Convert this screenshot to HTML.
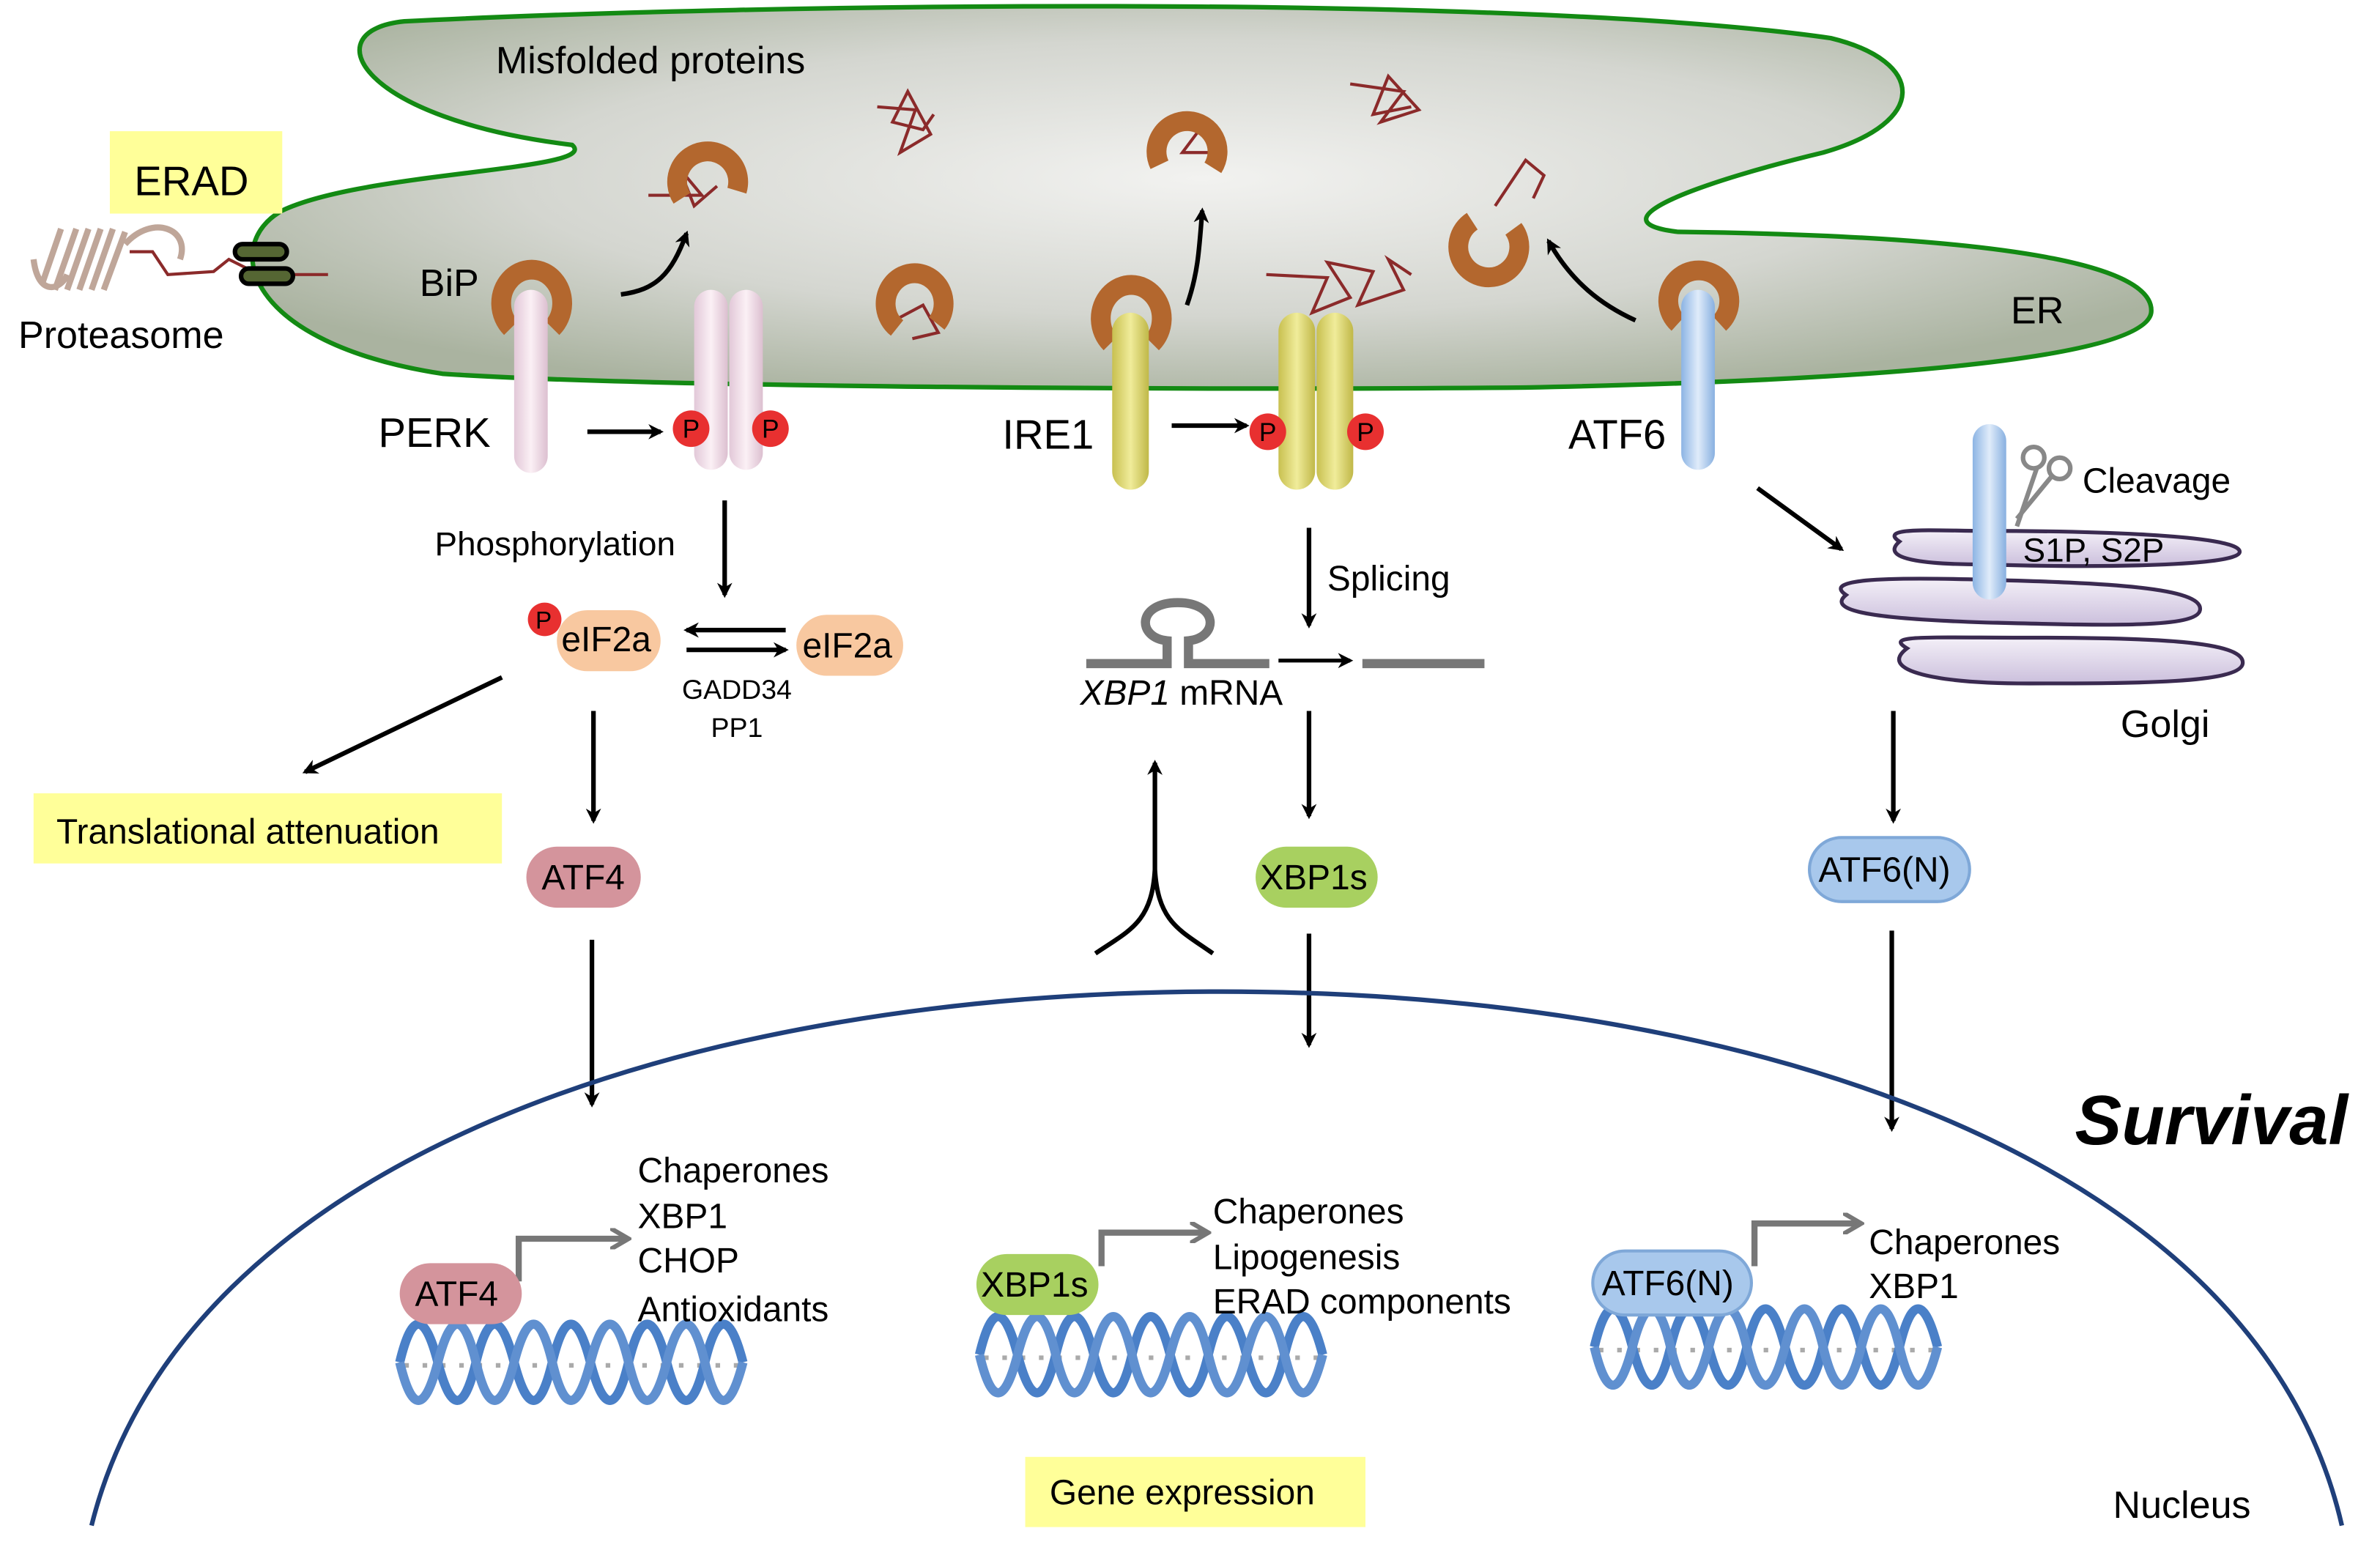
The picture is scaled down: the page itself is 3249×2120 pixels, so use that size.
<!DOCTYPE html>
<html><head><meta charset="utf-8"><style>
html,body{margin:0;padding:0;background:#fff}
svg{display:block}
text{font-family:"Liberation Sans",Arial,sans-serif;fill:#000}
</style></head><body>
<svg width="3249" height="2120" viewBox="0 0 1560 1018" preserveAspectRatio="none" xmlns="http://www.w3.org/2000/svg">
<defs>
<radialGradient id="er" cx="0.5" cy="0.45" r="0.6">
<stop offset="0" stop-color="#f2f2f0"/><stop offset="0.6" stop-color="#d4d6d0"/><stop offset="1" stop-color="#aab3a0"/></radialGradient>
<linearGradient id="pk" x1="0" x2="1"><stop offset="0" stop-color="#e2c8d8"/><stop offset="0.5" stop-color="#fbf0f5"/><stop offset="1" stop-color="#dcbfd0"/></linearGradient>
<linearGradient id="ye" x1="0" x2="1"><stop offset="0" stop-color="#c8c050"/><stop offset="0.5" stop-color="#f0ec9a"/><stop offset="1" stop-color="#c0b848"/></linearGradient>
<linearGradient id="bl" x1="0" x2="1"><stop offset="0" stop-color="#8cb4e4"/><stop offset="0.5" stop-color="#e0ecfa"/><stop offset="1" stop-color="#88b0e0"/></linearGradient>
<linearGradient id="gol" x1="0" y1="0" x2="0" y2="1"><stop offset="0" stop-color="#f4f0f8"/><stop offset="1" stop-color="#cbbfdc"/></linearGradient>
<marker id="ah" markerWidth="10" markerHeight="10" refX="8" refY="5" orient="auto" markerUnits="userSpaceOnUse"><path d="M0,0 L10,5 L0,10 L3,5 Z" fill="#000"/></marker>
<marker id="ag" markerWidth="14" markerHeight="14" refX="10" refY="7" orient="auto" markerUnits="userSpaceOnUse"><path d="M0,0 L12,7 L0,14" fill="none" stroke="#777" stroke-width="3"/></marker>
</defs>

<path d="M265 14 C205 20 235 78 375 95 C395 112 240 112 185 138 C145 160 160 225 290 245 C420 254 800 256 1000 254 C1200 250 1405 238 1410 205 C1413 178 1340 155 1100 152 C1040 145 1120 118 1195 100 C1265 80 1262 40 1200 25 C1000 -4 500 2 265 14 Z" fill="url(#er)" stroke="#138a13" stroke-width="3"/>
<text x="325" y="48" font-size="25">Misfolded proteins</text>
<text x="1318" y="212" font-size="25">ER</text>

<rect x="72" y="86" width="113" height="54" fill="#ffff99"/>
<text x="88" y="128" font-size="27">ERAD</text>
<g stroke="#b09080" stroke-width="4" fill="none" opacity="0.8">
<path d="M28 185 L40 150 M36 190 L50 150 M44 190 L58 150 M52 190 L66 150 M60 190 L74 150 M68 190 L82 152"/>
<path d="M22 170 C25 195 40 190 44 180 M82 160 C100 140 125 150 118 170"/></g>
<path d="M85 165 L100 165 L110 180 L140 178 L150 170 L170 180 L215 180" fill="none" stroke="#8b2a2a" stroke-width="2"/>
<rect x="154" y="160" width="34" height="10" rx="5" fill="#556633" stroke="#000" stroke-width="3"/>
<rect x="158" y="176" width="34" height="10" rx="5" fill="#556633" stroke="#000" stroke-width="3"/>
<text x="12" y="228" font-size="25">Proteasome</text>

<g fill="none" stroke="#8b2a2a" stroke-width="2">
<path d="M575 70 L600 72 L590 100 L610 88 L595 60 L585 80 L605 85 L612 75"/>
<path d="M885 55 L920 60 L905 80 L930 72 L910 50 L900 75 L925 70"/>
<path d="M830 180 L870 182 L860 205 L885 195 L870 172 L900 178 L890 200 L920 190 L910 170 L925 180"/>
<path d="M425 128 L460 128 L445 110 L455 135 L470 122"/>
<path d="M590 208 L605 200 L615 218 L598 222"/>
<path d="M760 90 L790 80 L775 100 L795 100"/>
<path d="M980 135 L1000 105 L1012 115 L1005 130"/>
</g>

<g fill="none" stroke="#b3672e" stroke-width="13">
<path d="M335 215 A20 22 0 1 1 362 215"/>
<path d="M447 130 A20 20 0 1 1 483 125"/>
<path d="M588 215 A19 20 0 1 1 614 212"/>
<path d="M760 108 A20 20 0 1 1 795 110"/>
<path d="M728 225 A20 22 0 1 1 755 225"/>
<path d="M992 150 A20 20 0 1 1 965 145"/>
<path d="M1100 212 A20 20 0 1 1 1127 212"/>
</g>
<text x="275" y="194" font-size="25">BiP</text>

<path d="M407 193 C430 190 440 180 450 153" fill="none" stroke="#000" stroke-width="3" marker-end="url(#ah)"/>
<path d="M778 200 C785 180 786 165 788 138" fill="none" stroke="#000" stroke-width="3" marker-end="url(#ah)"/>
<path d="M1072 210 C1050 200 1030 185 1015 158" fill="none" stroke="#000" stroke-width="3" marker-end="url(#ah)"/>

<rect x="337" y="190" width="22" height="120" rx="11" fill="url(#pk)"/>
<rect x="455" y="190" width="22" height="118" rx="11" fill="url(#pk)"/>
<rect x="478" y="190" width="22" height="118" rx="11" fill="url(#pk)"/>
<rect x="729" y="205" width="24" height="116" rx="12" fill="url(#ye)"/>
<rect x="838" y="205" width="24" height="116" rx="12" fill="url(#ye)"/>
<rect x="863" y="205" width="24" height="116" rx="12" fill="url(#ye)"/>
<rect x="1102" y="190" width="22" height="118" rx="11" fill="url(#bl)"/>

<text x="248" y="293" font-size="27">PERK</text>
<text x="657" y="294" font-size="27">IRE1</text>
<text x="1028" y="294" font-size="27">ATF6</text>

<line x1="385" y1="283" x2="433" y2="283" stroke="#000" stroke-width="3" marker-end="url(#ah)"/>
<line x1="768" y1="279" x2="817" y2="279" stroke="#000" stroke-width="3" marker-end="url(#ah)"/>
<g font-size="17" text-anchor="middle">
<circle cx="453" cy="281" r="12" fill="#e83030"/><text x="453" y="287">P</text>
<circle cx="505" cy="281" r="12" fill="#e83030"/><text x="505" y="287">P</text>
<circle cx="831" cy="283" r="12" fill="#e83030"/><text x="831" y="289">P</text>
<circle cx="895" cy="283" r="12" fill="#e83030"/><text x="895" y="289">P</text>
</g>

<line x1="475" y1="328" x2="475" y2="390" stroke="#000" stroke-width="3" marker-end="url(#ah)"/>
<text x="285" y="364" font-size="22">Phosphorylation</text>
<rect x="365" y="400" width="68" height="40" rx="20" fill="#f8c8a0"/>
<text x="368" y="427" font-size="23">eIF2a</text>
<circle cx="357" cy="406" r="11" fill="#e83030"/><text x="351" y="412" font-size="16">P</text>
<rect x="522" y="403" width="70" height="40" rx="20" fill="#f8c8a0"/>
<text x="526" y="431" font-size="23">eIF2a</text>
<line x1="515" y1="413" x2="450" y2="413" stroke="#000" stroke-width="3" marker-end="url(#ah)"/>
<line x1="450" y1="426" x2="515" y2="426" stroke="#000" stroke-width="3" marker-end="url(#ah)"/>
<text x="483" y="458" font-size="18" text-anchor="middle">GADD34</text>
<text x="483" y="483" font-size="18" text-anchor="middle">PP1</text>
<line x1="329" y1="444" x2="200" y2="506" stroke="#000" stroke-width="3" marker-end="url(#ah)"/>
<rect x="22" y="520" width="307" height="46" fill="#ffff99"/>
<text x="37" y="553" font-size="23">Translational attenuation</text>
<line x1="389" y1="466" x2="389" y2="538" stroke="#000" stroke-width="3" marker-end="url(#ah)"/>
<rect x="345" y="555" width="75" height="40" rx="20" fill="#d4949c"/>
<text x="355" y="583" font-size="23">ATF4</text>
<line x1="388" y1="616" x2="388" y2="724" stroke="#000" stroke-width="3" marker-end="url(#ah)"/>

<line x1="858" y1="346" x2="858" y2="410" stroke="#000" stroke-width="3" marker-end="url(#ah)"/>
<text x="870" y="387" font-size="23">Splicing</text>
<path d="M712 435 L765 435 L765 420 C745 418 745 395 772 395 C799 395 799 418 779 420 L779 435 L832 435" fill="none" stroke="#777" stroke-width="6"/>
<line x1="893" y1="435" x2="973" y2="435" stroke="#777" stroke-width="6"/>
<line x1="838" y1="433" x2="885" y2="433" stroke="#000" stroke-width="2.5" marker-end="url(#ah)"/>
<text x="708" y="462" font-size="23"><tspan font-style="italic">XBP1</tspan> mRNA</text>
<line x1="858" y1="466" x2="858" y2="535" stroke="#000" stroke-width="3" marker-end="url(#ah)"/>
<rect x="823" y="555" width="80" height="40" rx="20" fill="#a8d060"/>
<text x="826" y="583" font-size="23">XBP1s</text>
<line x1="858" y1="612" x2="858" y2="685" stroke="#000" stroke-width="3" marker-end="url(#ah)"/>
<path d="M718 625 C740 610 755 605 757 570 C759 605 774 610 795 625" fill="none" stroke="#000" stroke-width="3"/>
<line x1="757" y1="570" x2="757" y2="500" stroke="#000" stroke-width="3" marker-end="url(#ah)"/>

<line x1="1152" y1="320" x2="1207" y2="360" stroke="#000" stroke-width="3" marker-end="url(#ah)"/>
<path d="M1245 355 C1230 345 1270 348 1300 348 C1360 348 1470 350 1468 362 C1466 372 1360 372 1300 370 C1270 370 1230 368 1245 355 Z" fill="url(#gol)" stroke="#3a2a50" stroke-width="2.5"/>
<path d="M1210 390 C1195 380 1230 378 1300 380 C1380 382 1445 385 1442 400 C1440 412 1380 410 1300 408 C1240 406 1195 402 1210 390 Z" fill="url(#gol)" stroke="#3a2a50" stroke-width="2.5"/>
<path d="M1250 425 C1235 416 1260 418 1330 418 C1410 418 1472 420 1470 435 C1468 448 1400 448 1330 448 C1270 448 1230 440 1250 425 Z" fill="url(#gol)" stroke="#3a2a50" stroke-width="2.5"/>
<rect x="1293" y="278" width="22" height="115" rx="11" fill="url(#bl)"/>
<g stroke="#888" stroke-width="3" fill="none"><circle cx="1333" cy="300" r="7"/><circle cx="1350" cy="307" r="7"/><line x1="1335" y1="307" x2="1322" y2="345"/><line x1="1345" y1="312" x2="1322" y2="340"/></g>
<text x="1365" y="323" font-size="23">Cleavage</text>
<text x="1326" y="368" font-size="22">S1P, S2P</text>
<text x="1390" y="483" font-size="25">Golgi</text>
<line x1="1241" y1="466" x2="1241" y2="538" stroke="#000" stroke-width="3" marker-end="url(#ah)"/>
<rect x="1186" y="549" width="105" height="42" rx="21" fill="#a8c8ec" stroke="#7fa8d8" stroke-width="2"/>
<text x="1192" y="578" font-size="23">ATF6(N)</text>
<line x1="1240" y1="610" x2="1240" y2="740" stroke="#000" stroke-width="3" marker-end="url(#ah)"/>

<path d="M60 1000 C120 760 450 650 800 650 C1150 650 1480 760 1535 1000" fill="none" stroke="#1f3f7a" stroke-width="3"/>
<text x="1360" y="750" font-size="46" font-weight="bold" font-style="italic">Survival</text>
<text x="1385" y="995" font-size="25">Nucleus</text>
<rect x="672" y="955" width="223" height="46" fill="#ffff99"/>
<text x="688" y="986" font-size="23">Gene expression</text>

<g stroke="#aaa" stroke-width="3" stroke-dasharray="3 9">
<line x1="265" y1="895" x2="485" y2="895"/>
<line x1="645" y1="890" x2="865" y2="890"/>
<line x1="1048" y1="885" x2="1268" y2="885"/>
</g>
<g fill="none" stroke-width="6">
<path stroke="#4a80c8" d="M262 893 q12 -50 25 0 t25 0 t25 0 t25 0 t25 0 t25 0 t25 0 t25 0 t25 0"/>
<path stroke="#6090d0" d="M262 893 q12 50 25 0 t25 0 t25 0 t25 0 t25 0 t25 0 t25 0 t25 0 t25 0"/>
<path stroke="#4a80c8" d="M642 888 q12 -50 25 0 t25 0 t25 0 t25 0 t25 0 t25 0 t25 0 t25 0 t25 0"/>
<path stroke="#6090d0" d="M642 888 q12 50 25 0 t25 0 t25 0 t25 0 t25 0 t25 0 t25 0 t25 0 t25 0"/>
<path stroke="#4a80c8" d="M1045 883 q12 -50 25 0 t25 0 t25 0 t25 0 t25 0 t25 0 t25 0 t25 0 t25 0"/>
<path stroke="#6090d0" d="M1045 883 q12 50 25 0 t25 0 t25 0 t25 0 t25 0 t25 0 t25 0 t25 0 t25 0"/>
</g>
<path d="M340 840 L340 812 L410 812" fill="none" stroke="#777" stroke-width="4" marker-end="url(#ag)"/>
<rect x="262" y="828" width="80" height="40" rx="20" fill="#d4949c"/>
<text x="272" y="856" font-size="23">ATF4</text>
<g font-size="23"><text x="418" y="775">Chaperones</text><text x="418" y="805">XBP1</text><text x="418" y="834">CHOP</text><text x="418" y="866">Antioxidants</text></g>
<path d="M722 830 L722 808 L790 808" fill="none" stroke="#777" stroke-width="4" marker-end="url(#ag)"/>
<rect x="640" y="822" width="80" height="40" rx="20" fill="#a8d060"/>
<text x="643" y="850" font-size="23">XBP1s</text>
<g font-size="23"><text x="795" y="802">Chaperones</text><text x="795" y="832">Lipogenesis</text><text x="795" y="861">ERAD components</text></g>
<path d="M1150 830 L1150 802 L1218 802" fill="none" stroke="#777" stroke-width="4" marker-end="url(#ag)"/>
<rect x="1044" y="820" width="104" height="42" rx="21" fill="#a8c8ec" stroke="#7fa8d8" stroke-width="2"/>
<text x="1050" y="849" font-size="23">ATF6(N)</text>
<g font-size="23"><text x="1225" y="822">Chaperones</text><text x="1225" y="851">XBP1</text></g>
</svg>
</body></html>
